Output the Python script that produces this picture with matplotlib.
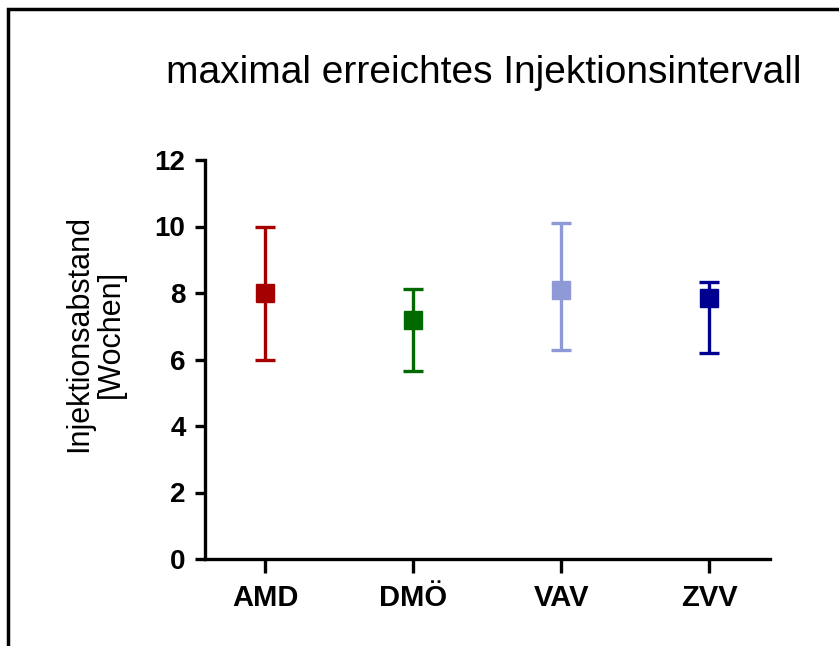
import matplotlib
matplotlib.use("Agg")
import matplotlib.pyplot as plt
from matplotlib.patches import Rectangle

categories = ["AMD", "DMÖ", "VAV", "ZVV"]
means = [8.0, 7.2, 8.1, 7.85]
lower = [6.0, 5.65, 6.28, 6.2]
upper = [10.0, 8.12, 10.12, 8.33]
colors = ["#a50000", "#006a00", "#9099d8", "#000090"]
yticks = [0, 2, 4, 6, 8, 10, 12]

plt.rcParams['font.family'] = ['Liberation Sans', 'DejaVu Sans']

fig = plt.figure(figsize=(8.39, 6.46), dpi=100)
W, H = 839, 646
ax = fig.add_axes([205 / W, 1 - 559 / H, (770 - 205) / W, (559 - 160) / H])

for i, (m, lo, hi, c) in enumerate(zip(means, lower, upper, colors)):
    ax.errorbar([i], [m], yerr=[[m - lo], [hi - m]], fmt='s', color=c,
                ecolor=c, elinewidth=2.4, capsize=7, capthick=2.4,
                markersize=12.5, markeredgecolor=c, zorder=3)

ax.set_xlim(-0.405, 3.41)
ax.set_ylim(0, 12)
ax.set_yticks(yticks)
ax.set_xticks(range(len(categories)))
ax.set_xticklabels(categories, fontsize=21, fontweight='bold')
ax.set_yticklabels([str(t) for t in yticks], fontsize=20, fontweight='bold')
ax.spines['top'].set_visible(False)
ax.spines['right'].set_visible(False)
for s in ['left', 'bottom']:
    ax.spines[s].set_linewidth(2.4)
ax.tick_params(axis='y', width=2.4, length=7, pad=7)
ax.tick_params(axis='x', width=2.4, length=10, pad=8)

fig.text(95 / W, 1 - 334 / H, "Injektionsabstand\n[Wochen]", fontsize=22,
         rotation=90, ha='center', va='center', multialignment='center',
         linespacing=1.05)

fig.text(484 / W, 1 - 83 / H, "maximal erreichtes Injektionsintervall",
         fontsize=28, ha='center', va='baseline')

fig.patches.append(Rectangle((8 / W, -0.1), 1.2, 1.1 - 9 / H,
                             transform=fig.transFigure, fill=False,
                             edgecolor='black', linewidth=2.5, clip_on=False))

fig.savefig("out.png", dpi=100)
